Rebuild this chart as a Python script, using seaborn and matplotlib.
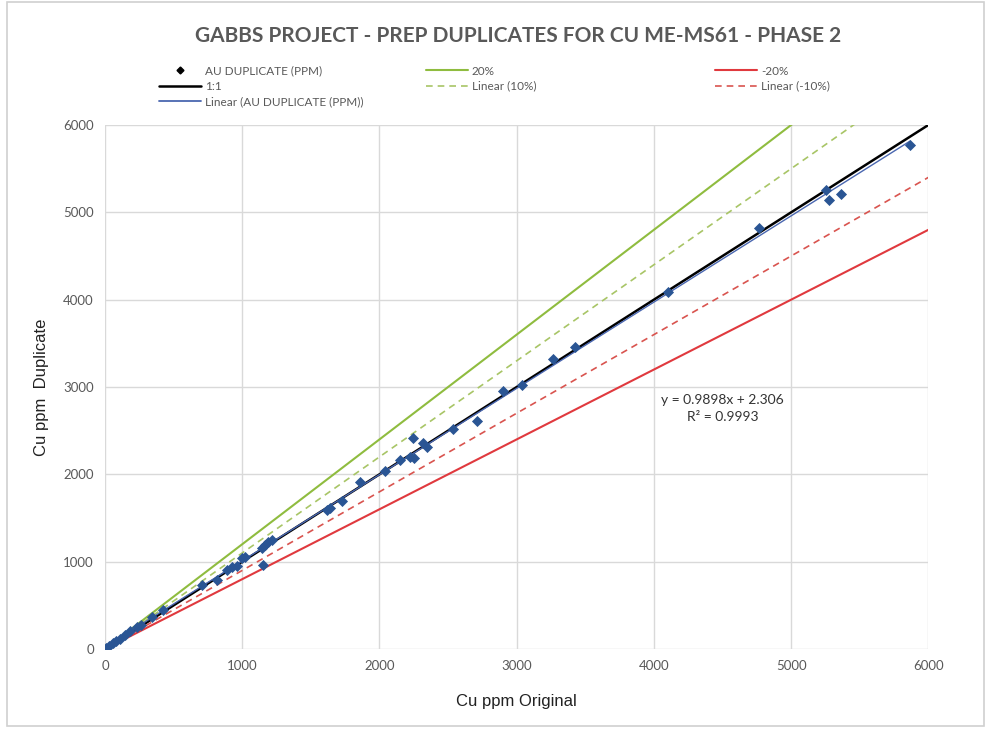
import numpy as np
import pandas as pd
import seaborn as sns
import matplotlib.pyplot as plt
from matplotlib.lines import Line2D
from matplotlib.patches import Rectangle

# values
cu_original = [10, 30, 55, 80, 110, 146, 182, 233, 260, 343, 423, 707, 816, 889, 926,
               960, 998, 1020, 1144, 1152, 1166, 1188, 1215, 1618, 1640, 1727, 1859,
               2041, 2150, 2223, 2252, 2245, 2318, 2347, 2536, 2711, 2901, 3039, 3265,
               3426, 4103, 4767, 5255, 5277, 5364, 5867]
cu_duplicate = [15, 40, 70, 95, 120, 165, 210, 252, 270, 367, 447, 733, 790, 905, 939,
                950, 1042, 1054, 1157, 962, 1191, 1226, 1250, 1592, 1615, 1695, 1913,
                2039, 2165, 2199, 2188, 2417, 2360, 2314, 2520, 2612, 2955, 3024, 3322,
                3459, 4089, 4822, 5258, 5143, 5212, 5773]
ref_x = [0, 6000]
ref_factors = {"1:1": 1.0, "20%": 1.2, "-20%": 0.8, "Linear (10%)": 1.1, "Linear (-10%)": 0.9}
axis_ticks = [0, 1000, 2000, 3000, 4000, 5000, 6000]
equation = "y = 0.9898x + 2.306"
r_squared = "R² = 0.9993"

df = pd.DataFrame({"orig": cu_original, "dup": cu_duplicate})

sns.set_style("white")
plt.rcParams['font.family'] = ['Lato', 'DejaVu Sans']

fig = plt.figure(figsize=(9.86, 7.29), dpi=100)
ax = fig.add_axes([0.1065, 0.1097, 0.835, 0.7188])

GREEN = '#8fbc3f'
RED = '#e0393e'
POINT = '#2a5594'
TREND = '#4a67b0'
GRAY = '#595959'

styles = {
    "1:1": dict(color='black', lw=1.8, ls='-'),
    "20%": dict(color=GREEN, lw=1.5, ls='-'),
    "-20%": dict(color=RED, lw=1.5, ls='-'),
    "Linear (10%)": dict(color='#a8c566', lw=1.2, ls=(0, (4, 3))),
    "Linear (-10%)": dict(color='#d9544f', lw=1.2, ls=(0, (4, 3))),
}
for name, k in ref_factors.items():
    sns.lineplot(x=ref_x, y=[v * k for v in ref_x], ax=ax, **styles[name], zorder=2)

sns.regplot(data=df, x="orig", y="dup", ax=ax, scatter=False, ci=None,
            line_kws=dict(color=TREND, lw=1.0, zorder=3))
sns.scatterplot(data=df, x="orig", y="dup", ax=ax, marker='D', s=32, color=POINT,
                edgecolor=POINT, linewidth=0, zorder=4)

ax.set_xlim(0, 6000)
ax.set_ylim(0, 6000)
ax.set_xticks(axis_ticks)
ax.set_yticks(axis_ticks)
ax.grid(True, color='#d9d9d9', lw=1)
for s in ax.spines.values():
    s.set_visible(False)
ax.tick_params(length=0, labelsize=9.5, labelcolor=GRAY, pad=8)
ax.set_xlabel("Cu ppm Original", family=['Liberation Sans'], fontsize=12, labelpad=16, color='#222222')
ax.set_ylabel("Cu ppm  Duplicate", family=['Liberation Sans'], fontsize=12, labelpad=10, color='#222222')

ax.text(0.75, 0.468, equation, transform=ax.transAxes, ha='center', fontsize=10, color='#333333')
ax.text(0.75, 0.436, r_squared, transform=ax.transAxes, ha='center', fontsize=10, color='#333333')

fig.text(0.525, 0.951, "GABBS PROJECT - PREP DUPLICATES FOR CU ME-MS61 - PHASE 2",
         ha='center', va='center', fontsize=15, fontweight='bold', color=GRAY)

# legend in three columns like the Excel one
def h(name):
    st = styles[name]
    return Line2D([], [], color=st['color'], lw=st['lw'], ls=st['ls'])

col1 = [Line2D([], [], marker='D', color='black', ls='', markersize=3.5),
        h("1:1"), Line2D([], [], color=TREND, lw=1.3)]
lab1 = ["AU DUPLICATE (PPM)", "1:1", "Linear (AU DUPLICATE (PPM))"]
col2 = [h("20%"), h("Linear (10%)")]
lab2 = ["20%", "Linear (10%)"]
col3 = [h("-20%"), h("Linear (-10%)")]
lab3 = ["-20%", "Linear (-10%)"]
for hs, ls, xpos in [(col1, lab1, 0.161), (col2, lab2, 0.432), (col3, lab3, 0.725)]:
    fig.legend(hs, ls, loc='upper left', bbox_to_anchor=(xpos, 0.91), frameon=False,
               fontsize=8.5, labelcolor=GRAY, handlelength=3.6, handletextpad=0.3,
               labelspacing=0.35, borderpad=0, borderaxespad=0)

fig.patches.append(Rectangle((0.007, 0.004), 0.991, 0.993, transform=fig.transFigure,
                             fill=False, edgecolor='#d0d0d0', lw=1.2))

fig.savefig("out.png", dpi=100)
